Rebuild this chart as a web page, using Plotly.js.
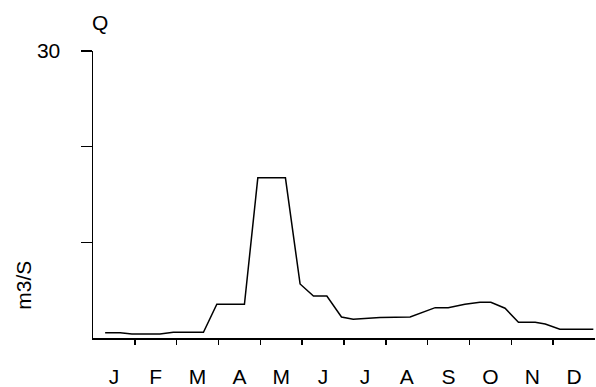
<!DOCTYPE html>
<html>
<head>
<meta charset="utf-8">
<script src="https://cdn.plot.ly/plotly-3.0.1.min.js"></script>
<style>html,body{margin:0;padding:0;background:#fff;}#chart{width:596px;height:387px;}</style>
</head>
<body>
<div id="chart"></div>
<script>
// Month position (0 = start of January, 12 = end of December)
const monthPos = [0.29,0.65,0.93,1.60,1.92,2.64,2.96,3.62,3.94,4.60,4.95,5.27,5.59,5.94,6.22,6.86,7.58,8.18,8.49,8.89,9.25,9.51,9.85,10.17,10.57,10.81,11.16,11.96];
// Discharge Q (m3/s)
const flow = [0.56,0.56,0.43,0.43,0.60,0.60,3.53,3.53,16.74,16.74,5.65,4.39,4.39,2.20,1.96,2.13,2.20,3.17,3.17,3.53,3.74,3.74,3.11,1.65,1.65,1.47,0.92,0.92];
const monthLabels = ['J','F','M','A','M','J','J','A','S','O','N','D'];
const yTickVals = [10,20,30];
const yTickText = ['','','30'];

const monthCenters = monthLabels.map((_, i) => i + 0.5);
const monthBounds = monthLabels.slice(1).map((_, i) => i + 1);

const font = {family: 'Liberation Sans, Arial, sans-serif', size: 21, color: '#000'};

const trace = {
  x: monthPos, y: flow, type: 'scatter', mode: 'lines',
  line: {color: '#000', width: 1.5}, hoverinfo: 'skip'
};

const layout = {
  width: 596, height: 387,
  margin: {l: 93, r: 1, t: 51, b: 49},
  paper_bgcolor: '#fff', plot_bgcolor: '#fff',
  showlegend: false,
  font: font,
  xaxis: {
    range: [0, 12], showgrid: false, zeroline: false,
    showline: true, linecolor: '#000', linewidth: 1.5,
    tickmode: 'array', tickvals: monthCenters, ticktext: monthLabels,
    ticks: '', ticklabelstandoff: 19,
    tickfont: font,
    minor: {tickmode: 'array', tickvals: monthBounds, ticks: 'outside', ticklen: 5, tickwidth: 1.5, tickcolor: '#000', showgrid: false}
  },
  yaxis: {
    range: [0, 30], showgrid: false, zeroline: false,
    showline: true, linecolor: '#000', linewidth: 1.5,
    tickmode: 'array', tickvals: yTickVals, ticktext: yTickText,
    ticks: 'outside', ticklen: 11, tickwidth: 1.5, tickcolor: '#000',
    ticklabelstandoff: 16, tickfont: font
  },
  annotations: [
    {text: 'Q', xref: 'paper', yref: 'paper', x: 0.014, y: 1.1, xanchor: 'center', yanchor: 'middle', showarrow: false, font: font},
    {text: 'm3/S', xref: 'paper', yref: 'paper', x: -0.139, y: 0.183, xanchor: 'center', yanchor: 'middle', textangle: -90, showarrow: false, font: font}
  ]
};

Plotly.newPlot('chart', [trace], layout, {staticPlot: true, displayModeBar: false});
</script>
</body>
</html>
